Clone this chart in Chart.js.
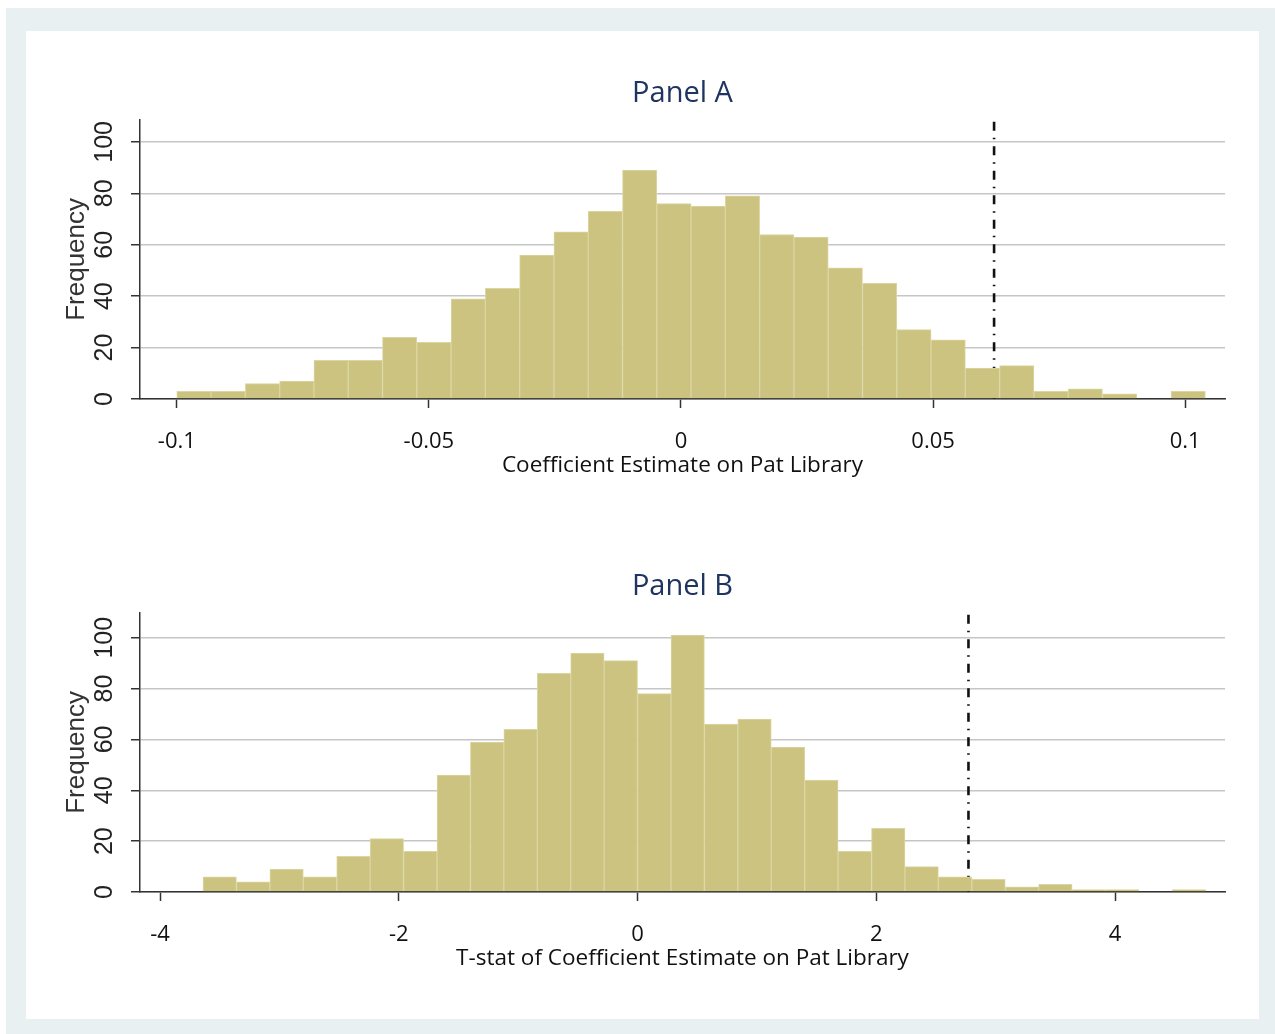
<!DOCTYPE html>
<html>
<head>
<meta charset="utf-8">
<script src="https://cdn.jsdelivr.net/npm/chart.js@4/dist/chart.umd.min.js"></script>
<style>
  html, body { margin: 0; padding: 0; background: #ffffff; }
  #frame { position: absolute; left: 6px; top: 8px; width: 1269px; height: 1026px; background: #e8f0f2; }
  #inner { position: absolute; left: 26px; top: 31px; width: 1233px; height: 988px; background: #ffffff; }
  .cv { position: absolute; left: 26px; width: 1233px; height: 493px; }
</style>
</head>
<body>
<div id="frame"></div>
<div id="inner"></div>
<canvas id="chartA" class="cv" style="top:31px" width="1233" height="493"></canvas>
<canvas id="chartB" class="cv" style="top:524px" width="1233" height="493"></canvas>
<script>
// ---------------- Data ----------------
const panelTitles = ['Panel A', 'Panel B'];
const xTitles = ['Coefficient Estimate on Pat Library', 'T-stat of Coefficient Estimate on Pat Library'];
const yTitle = 'Frequency';

// Panel A: bin centres (coefficient estimate) and frequencies
const binCentersA = [-0.0966, -0.0898, -0.0830, -0.0762, -0.0694, -0.0626, -0.0558, -0.0490, -0.0422, -0.0354,
                     -0.0286, -0.0218, -0.0150, -0.0082, -0.0014, 0.0054, 0.0122, 0.0190, 0.0258, 0.0326,
                     0.0394, 0.0462, 0.0530, 0.0598, 0.0666, 0.0734, 0.0802, 0.0870, 0.0938, 0.1006];
const countsA = [3, 3, 6, 7, 15, 15, 24, 22, 39, 43,
                 56, 65, 73, 89, 76, 75, 79, 64, 63, 51,
                 45, 27, 23, 12, 13, 3, 4, 2, 0, 3];
const xTickValsA = [-0.1, -0.05, 0, 0.05, 0.1];
const xTickLabelsA = ['-0.1', '-0.05', '0', '0.05', '0.1'];
const xRangeA = [-0.1073, 0.1079];
const markerA = 0.0621;

// Panel B: bin centres (t-stat) and frequencies
const binCentersB = [-3.50, -3.22, -2.94, -2.66, -2.38, -2.10, -1.82, -1.54, -1.26, -0.98,
                     -0.70, -0.42, -0.14, 0.14, 0.42, 0.70, 0.98, 1.26, 1.54, 1.82,
                     2.10, 2.38, 2.66, 2.94, 3.22, 3.50, 3.78, 4.06, 4.34, 4.62];
const countsB = [6, 4, 9, 6, 14, 21, 16, 46, 59, 64,
                 86, 94, 91, 78, 101, 66, 68, 57, 44, 16,
                 25, 10, 6, 5, 2, 3, 1, 1, 0, 1];
const xTickValsB = [-4, -2, 0, 2, 4];
const xTickLabelsB = ['-4', '-2', '0', '2', '4'];
const xRangeB = [-4.168, 4.921];
const markerB = 2.772;

const yTickVals = [0, 20, 40, 60, 80, 100];
const yTickLabels = ['0', '20', '40', '60', '80', '100'];
const yMaxA = 108.6;
const yMaxB = 109.8;

// ---------------- Styles ----------------
const barFill = '#cbc37f';
const barEdge = '#dcd6a2';
const gridColor = '#c6c6c6';
const axisColor = '#333333';
const titleColor = '#1f3560';
const uiFont = "'Open Sans', 'Noto Sans', sans-serif";
const numFont = "'Liberation Sans', Arial, sans-serif";

const helperPlugin = {
  id: 'helper',
  beforeDatasetsDraw(chart, args, opts) {
    const ctx = chart.ctx;
    const xs = chart.scales.x;
    const area = chart.chartArea;
    const px = xs.getPixelForValue(opts.marker);
    ctx.save();
    ctx.strokeStyle = '#111111';
    ctx.lineWidth = 2.6;
    ctx.setLineDash([9, 7, 1.5, 7]);
    ctx.beginPath();
    ctx.moveTo(px, area.top + 2);
    ctx.lineTo(px, area.bottom);
    ctx.stroke();
    ctx.restore();
  },
  afterDraw(chart, args, opts) {
    const ctx = chart.ctx;
    const ys = chart.scales.y;
    ctx.save();
    ctx.fillStyle = '#222222';
    ctx.font = '25px ' + numFont;
    ctx.textAlign = 'center';
    ctx.textBaseline = 'middle';
    yTickVals.forEach((v, i) => {
      const py = ys.getPixelForValue(v);
      ctx.save();
      ctx.translate(79, py);
      ctx.rotate(-Math.PI / 2);
      ctx.fillText(yTickLabels[i], 0, 0);
      ctx.restore();
    });
    ctx.restore();
  }
};

function makeChart(id, centers, counts, xTickVals, xTickLabels, xRange, yMax, marker, title, xTitle) {
  const data = centers.map((c, i) => ({ x: c, y: counts[i] }));
  return new Chart(document.getElementById(id), {
    type: 'bar',
    data: {
      datasets: [{
        data: data,
        backgroundColor: barFill,
        borderColor: barEdge,
        borderWidth: 1,
        barPercentage: 1.0,
        categoryPercentage: 1.0
      }]
    },
    options: {
      responsive: false,
      animation: false,
      events: [],
      layout: { padding: { left: 0, top: 0, right: 34, bottom: 0 } },
      plugins: {
        legend: { display: false },
        tooltip: { enabled: false },
        title: {
          display: true,
          text: title,
          fullSize: false,
          color: titleColor,
          font: { family: uiFont, size: 29, weight: 'normal' },
          padding: { top: 45, bottom: 9 }
        },
        helper: { marker: marker }
      },
      scales: {
        x: {
          type: 'linear',
          min: xRange[0],
          max: xRange[1],
          offset: false,
          afterBuildTicks(scale) { scale.ticks = xTickVals.map(v => ({ value: v })); },
          afterFit(scale) { scale.height = 125; },
          ticks: {
            autoSkip: false,
            maxRotation: 0,
            minRotation: 0,
            padding: 21,
            color: '#111111',
            font: { family: uiFont, size: 22 },
            callback(value, index) { return xTickLabels[index]; }
          },
          grid: { offset: false, drawOnChartArea: false, drawTicks: true, tickLength: 9, tickColor: axisColor, tickWidth: 1.5 },
          border: { display: true, color: axisColor, width: 1.5 },
          title: {
            display: true,
            text: xTitle,
            color: '#111111',
            font: { family: uiFont, size: 22.5 },
            padding: { top: 0, bottom: 44.5 }
          }
        },
        y: {
          type: 'linear',
          min: 0,
          max: yMax,
          afterBuildTicks(scale) { scale.ticks = yTickVals.map(v => ({ value: v })); },
          afterFit(scale) { scale.width = 114; },
          ticks: { display: false },
          grid: { color: gridColor, lineWidth: 1.5, drawTicks: true, tickLength: 9, tickColor: axisColor, tickWidth: 1.5 },
          border: { display: true, color: axisColor, width: 1.5 },
          title: {
            display: true,
            text: yTitle,
            color: '#333333',
            font: { family: numFont, size: 26 },
            padding: { top: 35, bottom: 0 }
          }
        }
      }
    },
    plugins: [helperPlugin]
  });
}

makeChart('chartA', binCentersA, countsA, xTickValsA, xTickLabelsA, xRangeA, yMaxA, markerA, panelTitles[0], xTitles[0]);
makeChart('chartB', binCentersB, countsB, xTickValsB, xTickLabelsB, xRangeB, yMaxB, markerB, panelTitles[1], xTitles[1]);
</script>
</body>
</html>
